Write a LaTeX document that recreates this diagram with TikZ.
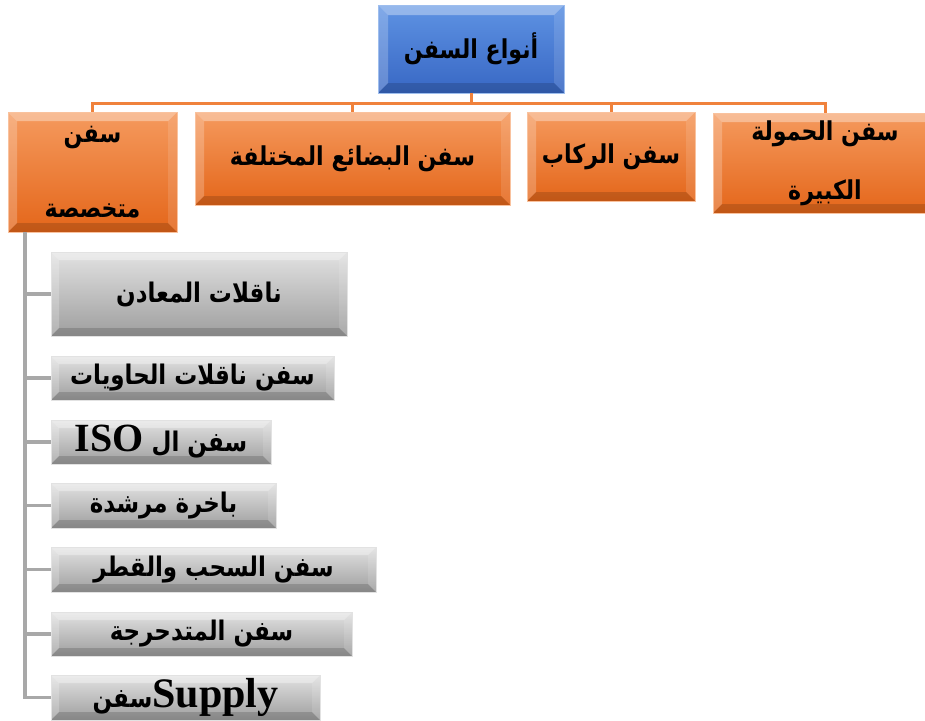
\documentclass[tikz,border=0pt]{standalone}
\usepackage{fontspec}
\setmainfont{Liberation Serif}
\newfontfamily\arabicfont[Script=Arabic,FakeStretch=0.85]{DejaVu Sans}
\TeXXeTstate=1
\definecolor{otop}{HTML}{F59A5E}
\definecolor{obot}{HTML}{E4661A}
\definecolor{gtop}{HTML}{E2E2E2}
\definecolor{gbot}{HTML}{9E9E9E}
\definecolor{btop}{HTML}{5E93E3}
\definecolor{bbot}{HTML}{3867C4}
\definecolor{oline}{HTML}{F0823C}
\definecolor{gline}{HTML}{A8A8A8}
\newcommand{\tf}{\arabicfont\bfseries\fontsize{26}{30}\selectfont}
\newcommand{\of}{\arabicfont\bfseries\fontsize{26}{30}\selectfont}
\newcommand{\gf}{\arabicfont\bfseries\fontsize{27}{30}\selectfont}
\newcommand{\lat}[2]{{\rmfamily\bfseries\fontsize{#1}{#1}\selectfont #2}}
\tikzset{
  bevel/.style={path picture={
    \fill[white,opacity=0.35] (path picture bounding box.north west) -- (path picture bounding box.north east)
      -- ([shift={(-#1,-#1)}]path picture bounding box.north east) -- ([shift={(#1,-#1)}]path picture bounding box.north west) -- cycle;
    \fill[white,opacity=0.22] (path picture bounding box.north west) -- (path picture bounding box.south west)
      -- ([shift={(#1,#1)}]path picture bounding box.south west) -- ([shift={(#1,-#1)}]path picture bounding box.north west) -- cycle;
    \fill[white,opacity=0.12] (path picture bounding box.north east) -- (path picture bounding box.south east)
      -- ([shift={(-#1,#1)}]path picture bounding box.south east) -- ([shift={(-#1,-#1)}]path picture bounding box.north east) -- cycle;
    \fill[black,opacity=0.15] (path picture bounding box.south west) -- (path picture bounding box.south east)
      -- ([shift={(-#1,#1)}]path picture bounding box.south east) -- ([shift={(#1,#1)}]path picture bounding box.south west) -- cycle;
  }},
  basebox/.style={inner sep=1pt, align=center, text=black, line width=0.6pt},
  obox/.style={basebox, top color=otop, bottom color=obot, draw=otop!60!white, bevel=9pt},
  gbox/.style={basebox, top color=gtop, bottom color=gbot, draw=gtop, bevel=8pt},
  bbox/.style={basebox, top color=btop, bottom color=bbot, draw=btop!60!white, bevel=10pt},
  oconn/.style={draw=oline, line width=3pt},
  gconn/.style={draw=gline, line width=3.2pt},
}
\begin{document}
\begin{tikzpicture}[x=1pt,y=-1pt]
\useasboundingbox (0,0) rectangle (925,720);
% top
\node[bbox, minimum width=186pt, minimum height=88pt] (top) at (471,49) {\tf\beginR أنواع السفن\endR};
% orange row
\node[obox, minimum width=169pt, minimum height=120pt] (n1) at (92.5,172) {\of\beginR سفن\endR\\[54pt]\of\beginR متخصصة\endR};
\node[obox, minimum width=315pt, minimum height=93pt] (n2) at (352.5,158.5) {\of\beginR سفن البضائع المختلفة\endR};
\node[obox, minimum width=168pt, minimum height=89pt] (n3) at (611,156.5) {\of\beginR سفن الركاب\endR};
\node[obox, minimum width=224pt, minimum height=100pt] (n4) at (825,163) {\of\beginR سفن الحمولة\endR\\[32pt]\of\beginR الكبيرة\endR};
% gray column
\node[gbox, minimum width=296pt, minimum height=84pt] (g1) at (199,294) {\gf\beginR ناقلات المعادن\endR};
\node[gbox, minimum width=283pt, minimum height=44pt] (g2) at (192.5,378) {\gf\beginR سفن ناقلات الحاويات\endR};
\node[gbox, minimum width=220pt, minimum height=44pt] (g3) at (161,442) {\gf\beginR سفن ال \beginL\lat{40}{ISO}\endL\endR};
\node[gbox, minimum width=225pt, minimum height=45pt] (g4) at (163.5,505.5) {\gf\beginR باخرة مرشدة\endR};
\node[gbox, minimum width=325pt, minimum height=45pt] (g5) at (213.5,569.5) {\gf\beginR سفن السحب والقطر\endR};
\node[gbox, minimum width=301pt, minimum height=44pt] (g6) at (201.5,634) {\gf\beginR سفن المتدحرجة\endR};
\node[gbox, minimum width=269pt, minimum height=45pt] (g7) at (185.5,697.5) {\gf\beginR\beginL\lat{42}{Supply}\endL سفن\endR};
% orange connectors
\coordinate (bus) at (471,103);
\draw[oconn] (top.south) -- (bus);
\draw[oconn] (n1.north) |- (bus) -| (n4.north);
\draw[oconn] (n2.north) -- (n2.north |- bus);
\draw[oconn] (n3.north) -- (n3.north |- bus);
% gray connectors
\path (n1.south) ++(-67.5,0) coordinate (spine);
\draw[gconn] (spine) |- (g7.west);
\foreach \g in {g1,g2,g3,g4,g5,g6} {
  \draw[gconn] (spine |- \g.west) -- (\g.west);
}
\end{tikzpicture}
\end{document}
